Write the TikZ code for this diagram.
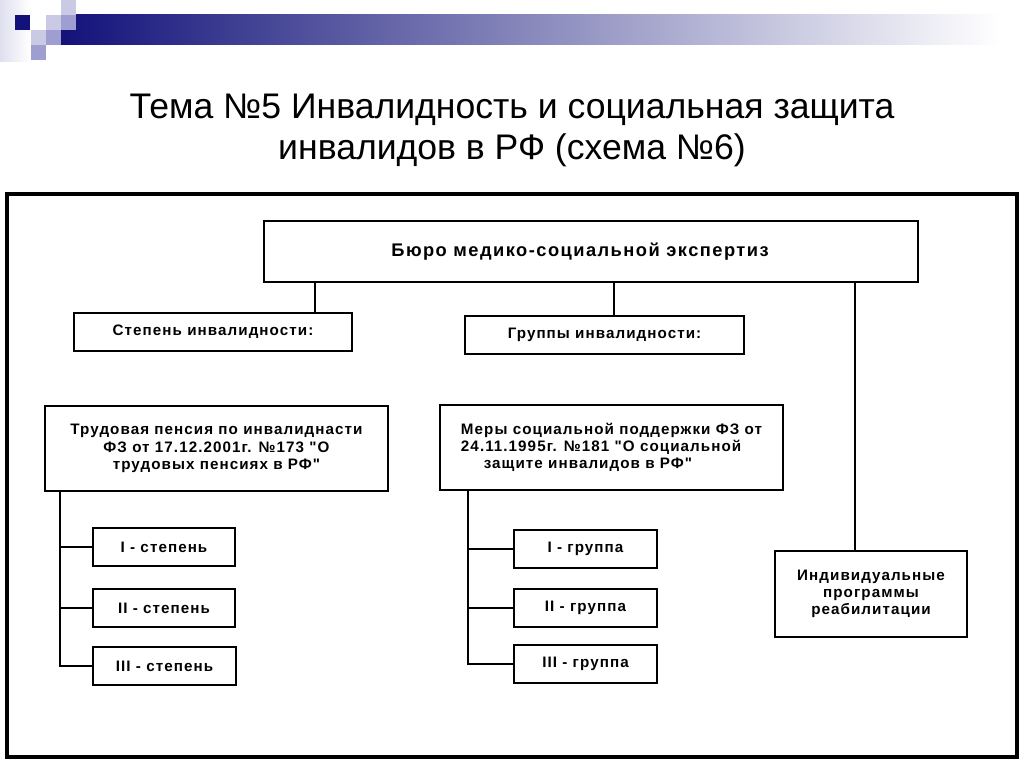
\documentclass[tikz,border=0pt]{standalone}
\usepackage{fontspec}
\setmainfont{Liberation Sans}[Ligatures=TeXOff]
\usetikzlibrary{positioning,calc}
\definecolor{hdnavy}{HTML}{12127A}
\definecolor{hdmid}{HTML}{9C9CB4}
\definecolor{sqlight}{HTML}{CACAE4}
\definecolor{sqmid}{HTML}{9E9ED0}

\begin{document}
\begin{tikzpicture}[
    x=0.025cm, y=-0.025cm,
    box/.style={draw=black, line width=1.4pt, fill=white, align=center, inner sep=2pt, font=\fontsize{10.8}{12.2}\selectfont\bfseries\addfontfeatures{LetterSpace=7}},
    subbox/.style={box, minimum width=3.575cm, minimum height=0.95cm},
    line/.style={draw=black, line width=1.3pt},
    titletext/.style={anchor=base, font=\fontsize{25.3}{30}\selectfont}
]
\useasboundingbox (0,0) rectangle (1024,768);
\fill[white] (0,0) rectangle (1024,768);

% header decoration
\shade[left color=sqlight!60, right color=white] (0,0) rectangle (30,62);
\shade[left color=hdnavy, middle color=hdmid, right color=white] (61,15) rectangle (1000,45);
\fill[hdnavy] (15,15) rectangle (30,30);
\fill[sqlight] (46,15) rectangle (61,30);
\fill[sqlight] (61,0) rectangle (76,15);
\fill[sqmid] (61,15) rectangle (76,30);
\fill[sqlight] (31,30) rectangle (46,45);
\fill[sqmid] (46,30) rectangle (61,45);
\fill[sqmid] (31,45) rectangle (46,60);

% title
\node[titletext] (title1) at (512,119) {Тема №5 Инвалидность и социальная защита};
\node[titletext] (title2) at (512,160) {инвалидов в РФ (схема №6)};

% frame
\draw[line width=3.2pt] (7,194) rectangle (1017,757);

% boxes
\node[box, minimum width=16.35cm, minimum height=1.525cm, font=\fontsize{13}{15}\selectfont\bfseries\addfontfeatures{LetterSpace=8}] (bureau) at (591,251.5) {Бюро медико-социальной экспертиз\hspace*{1.2em}};
\node[box, minimum width=6.95cm, minimum height=0.95cm] (degree) at (213,332) {Степень инвалидности:};
\node[box, minimum width=6.975cm, minimum height=0.95cm] (groups) at (604.5,335) {Группы инвалидности:};
\node[box, minimum width=8.575cm, minimum height=2.125cm] (pension) at (216.5,448.5) {Трудовая пенсия по инвалиднасти\\ФЗ от 17.12.2001г. №173 "О\\трудовых пенсиях в РФ"};
\node[box, minimum width=8.575cm, minimum height=2.125cm, align=left] (support) at (611.5,447.5) {Меры социальной поддержки ФЗ от\\24.11.1995г. №181 "О социальной\\\hspace*{1.5em}защите инвалидов в РФ"};
\node[box, minimum width=4.8cm, minimum height=2.15cm] (ipr) at (871,594) {Индивидуальные\\программы\\реабилитации};

\node[subbox, minimum width=3.55cm] (deg1) at (164,547) {I - степень};
\node[subbox, minimum width=3.55cm] (deg2) at (164,608) {II - степень};
\node[subbox, minimum width=3.55cm] (deg3) at (164.5,666) {III - степень};
\node[subbox] (grp1) at (585.5,549) {I - группа};
\node[subbox] (grp2) at (585.5,608) {II - группа};
\node[subbox] (grp3) at (585.5,664) {III - группа};

% links from bureau
\coordinate (k1) at (315,0);
\coordinate (k2) at (614,0);
\coordinate (k3) at (855,0);
\draw[line] (bureau.south -| k1) -- (degree.north -| k1);
\draw[line] (bureau.south -| k2) -- (groups.north -| k2);
\draw[line] (bureau.south -| k3) -- (ipr.north -| k3);

% trees
\coordinate (t1) at ([xshift=0.4cm]pension.south west);
\coordinate (t2) at ([xshift=0.725cm]support.south west);
\draw[line] (t1) |- (deg3.west);
\draw[line] (t2) |- (grp3.west);
\foreach \n in {deg1,deg2}
  \draw[line] (\n.west) -- (\n.west -| t1);
\foreach \n in {grp1,grp2}
  \draw[line] (\n.west) -- (\n.west -| t2);
\end{tikzpicture}
\end{document}
